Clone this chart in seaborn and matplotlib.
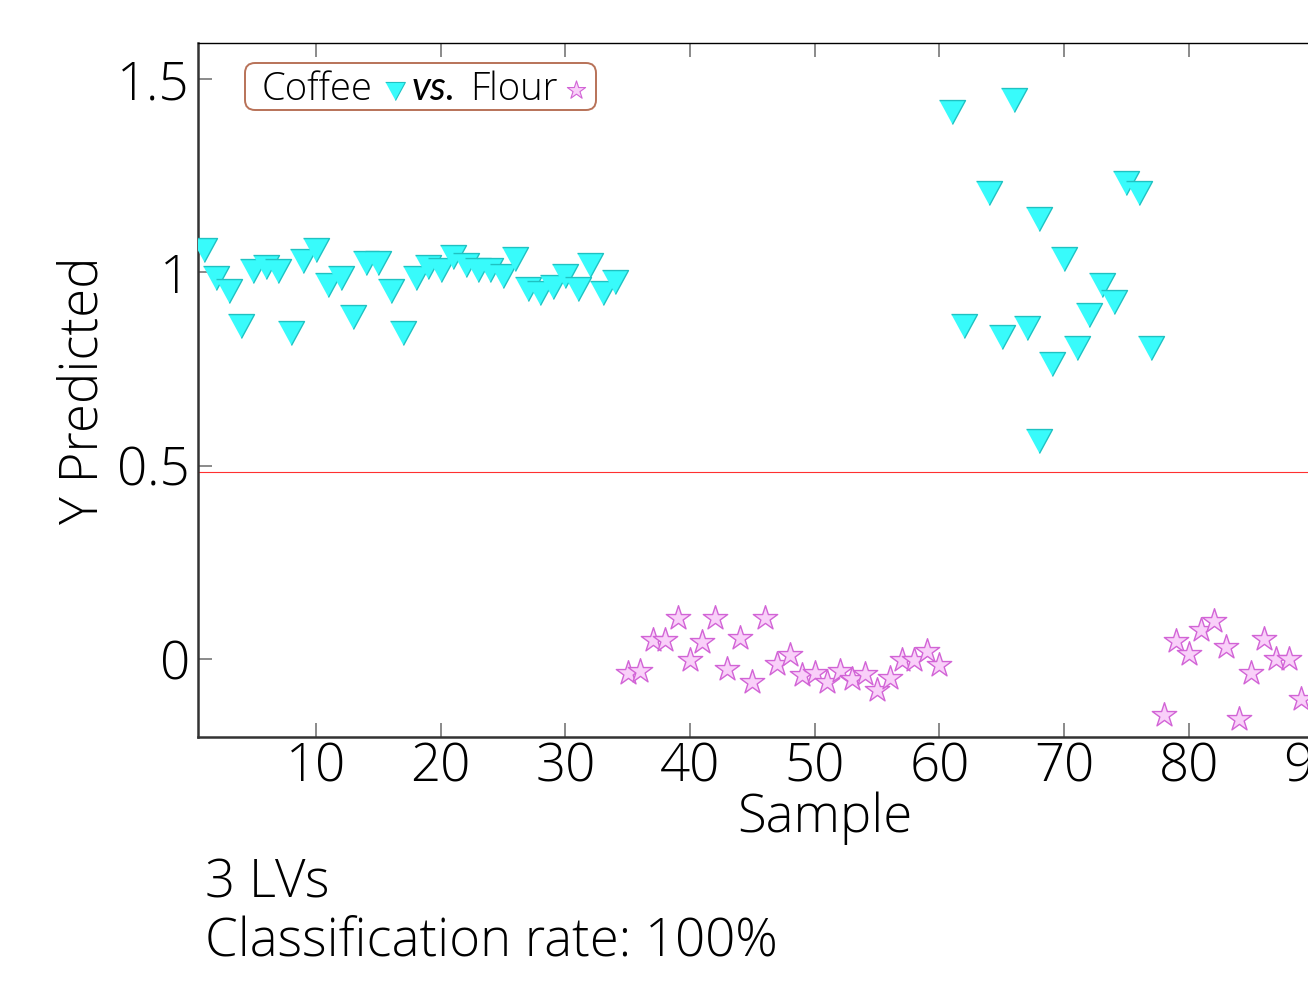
import numpy as np
import pandas as pd
import matplotlib
matplotlib.use("Agg")
import matplotlib.pyplot as plt
import seaborn as sns
from matplotlib.patches import FancyBboxPatch
from matplotlib.ticker import FuncFormatter, MultipleLocator

# ---- data: PLS-DA predicted class value per sample ----
coffee_sample = list(range(1, 35)) + [61, 62, 64, 65, 66, 67, 68, 68, 69, 70,
                                      71, 72, 73, 74, 75, 76, 77]
coffee_pred = [1.058, 0.985, 0.952, 0.862, 1.003, 1.013, 1.003, 0.844, 1.030, 1.058,
               0.968, 0.985, 0.884, 1.025, 1.025, 0.952, 0.844, 0.985, 1.013, 1.006,
               1.040, 1.019, 1.007, 1.007, 0.990, 1.035, 0.957, 0.946, 0.962, 0.990,
               0.957, 1.020, 0.946, 0.974,
               1.414, 0.861, 1.205, 0.832, 1.446, 0.855, 1.137, 0.565, 0.764, 1.034,
               0.804, 0.889, 0.967, 0.922, 1.232, 1.205, 0.804]

flour_sample = list(range(35, 61)) + list(range(78, 90))
flour_pred = [-0.036, -0.032, 0.048, 0.048, 0.106, -0.003, 0.044, 0.106, -0.025, 0.054,
              -0.060, 0.106, -0.012, 0.010, -0.042, -0.036, -0.060, -0.032, -0.053, -0.038,
              -0.081, -0.049, -0.003, -0.003, 0.020, -0.015,
              -0.144, 0.046, 0.014, 0.074, 0.098, 0.031, -0.155, -0.036, 0.053, 0.001,
              0.001, -0.103]

threshold = 0.484
y_ticks = [0, 0.5, 1, 1.5]
n_lv = 3
class_rate = 100

coffee = pd.DataFrame({"Sample": coffee_sample, "Y": coffee_pred})
flour = pd.DataFrame({"Sample": flour_sample, "Y": flour_pred})

# ---- style ----
sns.set_theme(style="white")
plt.rcParams["font.family"] = ["Open Sans", "DejaVu Sans"]
plt.rcParams["font.weight"] = "light"
plt.rcParams["axes.labelweight"] = "light"
plt.rcParams["text.color"] = "black"
plt.rcParams["axes.labelcolor"] = "black"
plt.rcParams["xtick.color"] = "black"
plt.rcParams["ytick.color"] = "black"

FS = 38
tri_face, tri_edge = "#38fbfb", "#1fc2c2"
star_face, star_edge = "#f9d0f9", "#d264d6"
tri_marker = [(-1, 0.92), (1, 0.92), (0, -0.92)]

W, H = 1308, 982
AX_L, AX_B, AX_W, AX_H = 198, 245, 1254, 694     # axes box in pixels
fig = plt.figure(figsize=(W / 100, H / 100), dpi=100)
ax = fig.add_axes([AX_L / W, AX_B / H, AX_W / W, AX_H / H])

ax.axhline(threshold, color="#ff3030", lw=0.8, zorder=1)

sns.scatterplot(data=coffee, x="Sample", y="Y", ax=ax, marker=tri_marker, s=350,
                color=tri_face, edgecolor=tri_edge, linewidth=1.0, zorder=3, legend=False)
sns.scatterplot(data=flour, x="Sample", y="Y", ax=ax, marker="*", s=340,
                color=star_face, edgecolor=star_edge, linewidth=1.0, zorder=3, legend=False)

ax.set_xlim(0.55, 101.1)
ax.set_ylim(-0.2017, 1.593)
ax.xaxis.set_major_locator(MultipleLocator(10))
ax.set_yticks(y_ticks)
ax.yaxis.set_major_formatter(FuncFormatter(lambda v, p: f"{v:g}"))

ax.tick_params(axis="both", direction="in", length=10, width=1.2, color="#777777",
               labelsize=FS, labelcolor="black")
ax.tick_params(axis="x", top=True, bottom=True, pad=3)
ax.tick_params(axis="y", left=True, right=False, pad=6)

for side in ["left", "bottom"]:
    ax.spines[side].set_color("#333333")
    ax.spines[side].set_linewidth(1.8)
ax.spines["top"].set_color("black")
ax.spines["top"].set_linewidth(1.0)
ax.spines["right"].set_visible(False)

ax.set_xlabel("Sample", fontsize=FS, labelpad=-2)
ax.set_ylabel("Y Predicted", fontsize=FS, labelpad=4.5)

# ---- inline key box: "Coffee ▼ vs. Flour ☆" ----
def ax_xy(px, py):
    """pixel position (from top-left of the figure) -> axes fraction"""
    return (px - AX_L) / AX_W, (H - AX_B - py) / AX_H

bx0, by1 = ax_xy(245, 63)
bx1, by0 = ax_xy(596, 110)
key_box = FancyBboxPatch((bx0, by0), bx1 - bx0, by1 - by0, transform=ax.transAxes,
                         boxstyle="round,pad=0,rounding_size=0.008",
                         mutation_aspect=AX_W / AX_H, facecolor="white",
                         edgecolor="#b87258", linewidth=1.4, zorder=5, clip_on=False)
ax.add_patch(key_box)
KFS = 27.5
ax.text(*ax_xy(262, 100), "Coffee", transform=ax.transAxes, fontsize=KFS,
        va="baseline", ha="left", zorder=6)
ax.text(*ax_xy(412, 100), "vs.", transform=ax.transAxes, fontsize=KFS + 1,
        family=["Lato", "DejaVu Sans"], fontstyle="italic", fontweight="normal",
        va="baseline", ha="left", zorder=6)
ax.text(*ax_xy(470, 100), "Flour", transform=ax.transAxes, fontsize=KFS,
        va="baseline", ha="left", zorder=6)
ax.scatter(*ax_xy(395, 91), transform=ax.transAxes, marker=tri_marker, s=200,
           color=tri_face, edgecolor=tri_edge, linewidth=0.8, zorder=6, clip_on=False)
ax.scatter(*ax_xy(576, 90), transform=ax.transAxes, marker="*", s=190,
           color=star_face, edgecolor=star_edge, linewidth=0.8, zorder=6, clip_on=False)

fig.text(205 / W, (H - 897) / H, f"{n_lv} LVs", fontsize=FS, va="baseline", ha="left")
fig.text(205 / W, (H - 956) / H, f"Classification rate: {class_rate}%", fontsize=FS,
         va="baseline", ha="left")

fig.savefig("out.png", dpi=100)
